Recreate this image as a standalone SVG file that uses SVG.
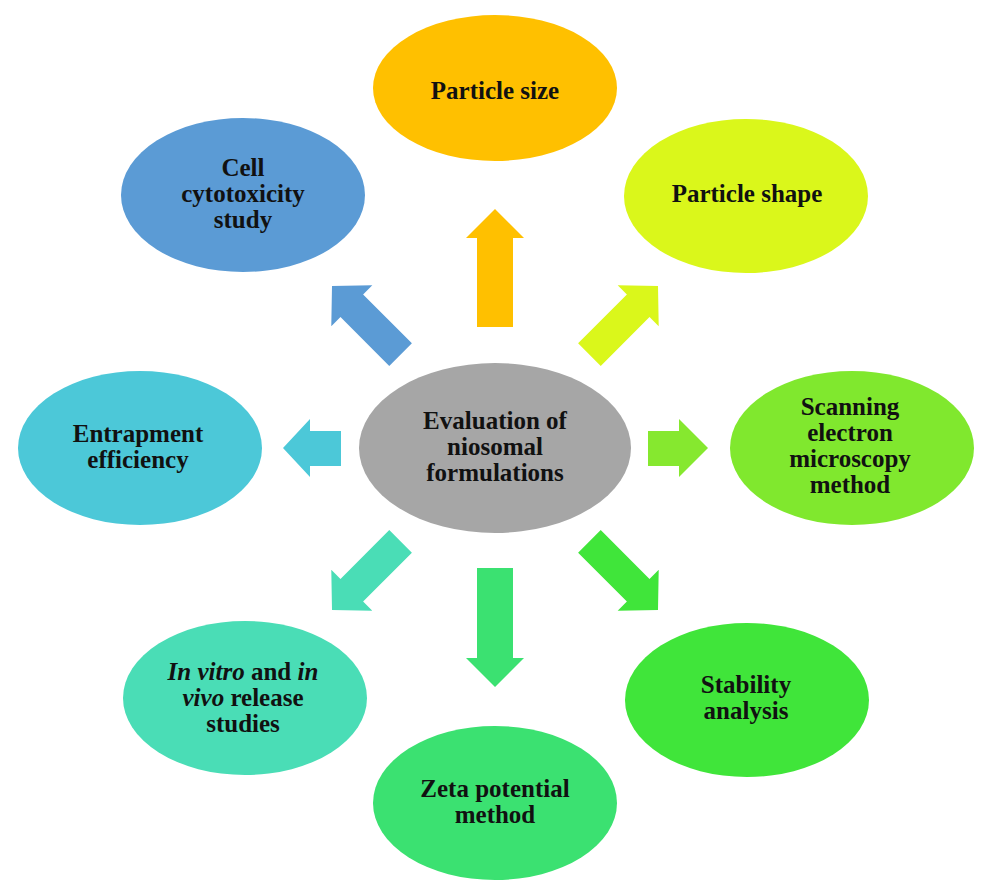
<svg xmlns="http://www.w3.org/2000/svg" width="992" height="887" viewBox="0 0 992 887">
<style>
text{font-family:"Liberation Serif","Times New Roman",serif;font-weight:bold;font-size:25px;fill:#111;text-anchor:middle}
.i{font-style:italic}
</style>
<rect width="992" height="887" fill="#fff"/>
<g id="connectors">
<polygon points="495,209 524,238 513,238 513,327 477,327 477,238 466,238" fill="#FFC000"/>
<polygon points="495,687 524,658 513,658 513,568 477,568 477,658 466,658" fill="#3BE171"/>
<polygon points="283,448 310,419 310,431 341,431 341,466 310,466 310,477" fill="#4CC8D8"/>
<polygon points="708,448 679,419 679,431 648,431 648,466 679,466 679,477" fill="#86E82F"/>
<polygon transform="translate(332,286) rotate(-45)" points="0,0 29,28 16,28 16,97 -16,97 -16,28 -29,28" fill="#5B9BD5"/>
<polygon transform="translate(658,286) rotate(45)" points="0,0 29,28 16,28 16,97 -16,97 -16,28 -29,28" fill="#DAF71B"/>
<polygon transform="translate(332,610) rotate(-135)" points="0,0 29,28 16,28 16,97 -16,97 -16,28 -29,28" fill="#4ADDB6"/>
<polygon transform="translate(658,610) rotate(135)" points="0,0 29,28 16,28 16,97 -16,97 -16,28 -29,28" fill="#40E53A"/>
</g>
<g id="center">
<ellipse cx="495" cy="448" rx="136" ry="85" fill="#A6A6A6"/>
<text x="495" y="429">Evaluation of</text>
<text x="495" y="455">niosomal</text>
<text x="495" y="481">formulations</text>
</g>
<g id="particle-size">
<ellipse cx="495" cy="88" rx="122" ry="73" fill="#FFC000"/>
<text x="495" y="99">Particle size</text>
</g>
<g id="particle-shape">
<ellipse cx="746" cy="196" rx="122" ry="77" fill="#DAF71B"/>
<text x="747" y="202">Particle shape</text>
</g>
<g id="sem">
<ellipse cx="852" cy="448" rx="122" ry="77" fill="#80E82E"/>
<text x="850" y="415">Scanning</text>
<text x="850" y="441">electron</text>
<text x="850" y="467">microscopy</text>
<text x="850" y="493">method</text>
</g>
<g id="stability">
<ellipse cx="747" cy="700" rx="122" ry="77" fill="#40E53A"/>
<text x="746" y="693">Stability</text>
<text x="746" y="719">analysis</text>
</g>
<g id="zeta">
<ellipse cx="495" cy="803" rx="122" ry="77" fill="#3BE171"/>
<text x="495" y="797">Zeta potential</text>
<text x="495" y="823">method</text>
</g>
<g id="release">
<ellipse cx="245" cy="698" rx="122" ry="77" fill="#4ADDB6"/>
<text x="243" y="680"><tspan class="i">In vitro</tspan> and <tspan class="i">in</tspan></text>
<text x="243" y="706"><tspan class="i">vivo</tspan> release</text>
<text x="243" y="732">studies</text>
</g>
<g id="entrapment">
<ellipse cx="140" cy="448" rx="122" ry="77" fill="#4CC8D8"/>
<text x="138" y="442">Entrapment</text>
<text x="138" y="468">efficiency</text>
</g>
<g id="cytotoxicity">
<ellipse cx="243" cy="195" rx="122" ry="77" fill="#5B9BD5"/>
<text x="243" y="176">Cell</text>
<text x="243" y="202">cytotoxicity</text>
<text x="243" y="228">study</text>
</g>
</svg>
